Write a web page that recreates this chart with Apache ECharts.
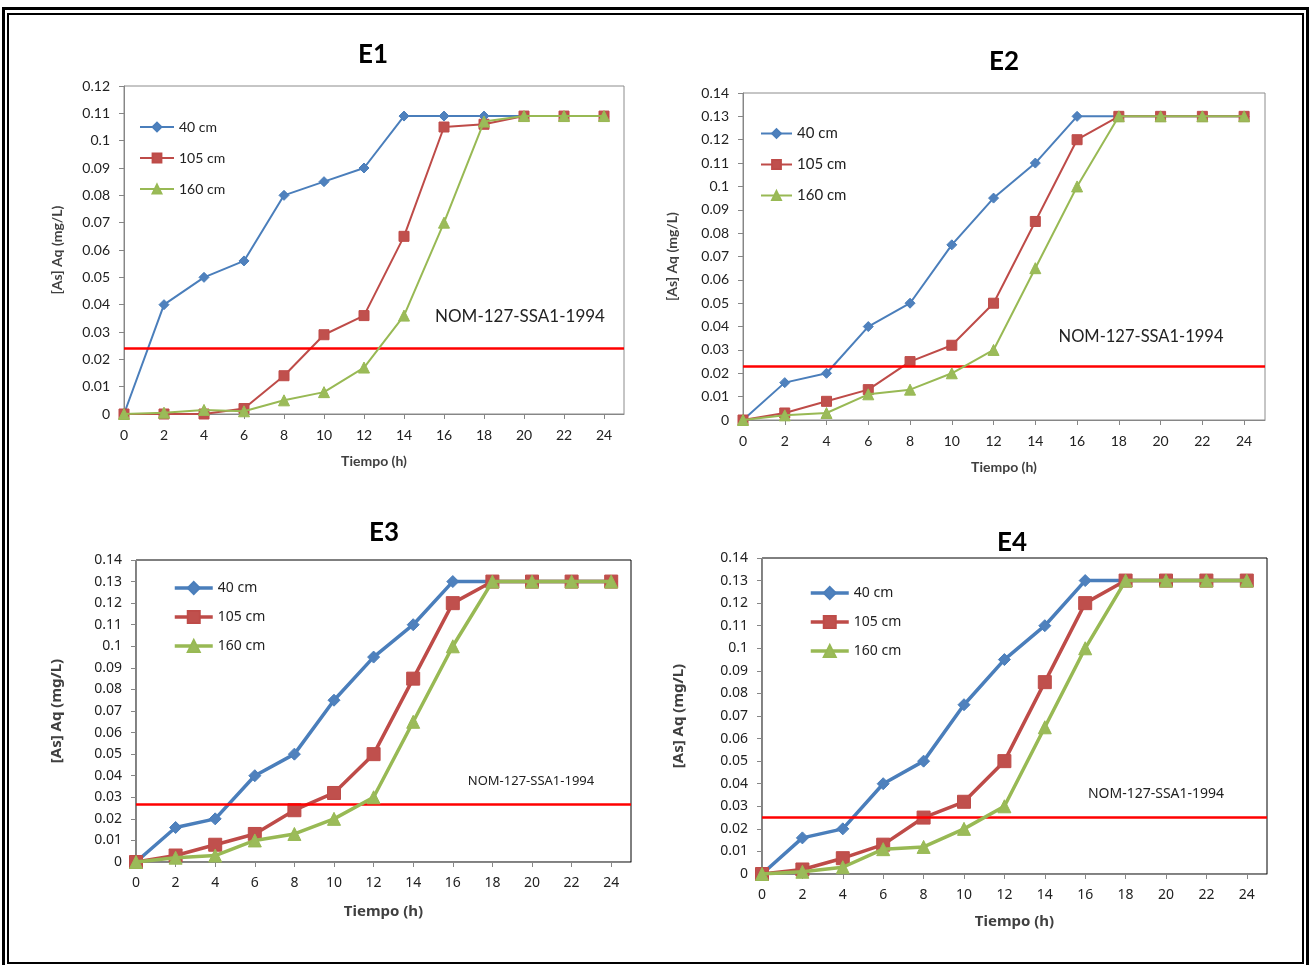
<!DOCTYPE html>
<html lang="es">
<head>
  <meta charset="UTF-8">
  <title>[As] Aq vs Tiempo - ensayos E1 a E4</title>
  <script src="https://cdn.jsdelivr.net/npm/echarts@6/dist/echarts.min.js"></script>
  <style>
    body { margin: 0; padding: 0; background: #fff; overflow: hidden; }
    #chart { position: absolute; left: 0; top: 0; width: 1309px; height: 965px; }
    /* doble marco exterior */
    .marco-ext { position: absolute; left: 2px; top: 7px; width: 1301px; height: 955px; border: 3px solid #000; pointer-events: none; }
    .marco-int { position: absolute; left: 7px; top: 13px; width: 1293px; height: 947px; border: 2px solid #000; pointer-events: none; }
  </style>
</head>
<body>
  <div id="chart"></div>
  <div class="marco-ext"></div>
  <div class="marco-int"></div>

  <script>
    // Tiempo de muestreo (h) y etiquetas del eje X
    const horas = [0, 2, 4, 6, 8, 10, 12, 14, 16, 18, 20, 22, 24];
    const horasEje = [0, 2, 4, 6, 8, 10, 12, 14, 16, 18, 20, 22, 24];
    const profundidades = ['40 cm', '105 cm', '160 cm'];
    const titulos = ['E1', 'E2', 'E3', 'E4'];
    const textoNom = 'NOM-127-SSA1-1994';

    // [As] Aq (mg/L) por ensayo y profundidad
    const e1_40  = [0, 0.040, 0.050, 0.056, 0.080, 0.085, 0.090, 0.109, 0.109, 0.109, 0.109, 0.109, 0.109];
    const e1_105 = [0, 0, 0, 0.002, 0.014, 0.029, 0.036, 0.065, 0.105, 0.106, 0.109, 0.109, 0.109];
    const e1_160 = [0, 0.0005, 0.0015, 0.001, 0.005, 0.008, 0.017, 0.036, 0.070, 0.107, 0.109, 0.109, 0.109];

    const e2_40  = [0, 0.016, 0.020, 0.040, 0.050, 0.075, 0.095, 0.110, 0.130, 0.130, 0.130, 0.130, 0.130];
    const e2_105 = [0, 0.003, 0.008, 0.013, 0.025, 0.032, 0.050, 0.085, 0.120, 0.130, 0.130, 0.130, 0.130];
    const e2_160 = [0, 0.002, 0.003, 0.011, 0.013, 0.020, 0.030, 0.065, 0.100, 0.130, 0.130, 0.130, 0.130];

    const e3_40  = [0, 0.016, 0.020, 0.040, 0.050, 0.075, 0.095, 0.110, 0.130, 0.130, 0.130, 0.130, 0.130];
    const e3_105 = [0, 0.003, 0.008, 0.013, 0.024, 0.032, 0.050, 0.085, 0.120, 0.130, 0.130, 0.130, 0.130];
    const e3_160 = [0, 0.002, 0.003, 0.010, 0.013, 0.020, 0.030, 0.065, 0.100, 0.130, 0.130, 0.130, 0.130];

    const e4_40  = [0, 0.016, 0.020, 0.040, 0.050, 0.075, 0.095, 0.110, 0.130, 0.130, 0.130, 0.130, 0.130];
    const e4_105 = [0, 0.002, 0.007, 0.013, 0.025, 0.032, 0.050, 0.085, 0.120, 0.130, 0.130, 0.130, 0.130];
    const e4_160 = [0, 0.001, 0.003, 0.011, 0.012, 0.020, 0.030, 0.065, 0.100, 0.130, 0.130, 0.130, 0.130];

    // Límite de la norma (línea roja) y máximo del eje Y
    const limiteNom = [0.024, 0.023, 0.027, 0.025];
    const yMaximo = [0.12, 0.14, 0.14, 0.14];

    const datosEnsayos = [
      [e1_40, e1_105, e1_160],
      [e2_40, e2_105, e2_160],
      [e3_40, e3_105, e3_160],
      [e4_40, e4_105, e4_160]
    ];

    // Colores estilo Excel 2007
    const colorLinea = ['#4A7EBB', '#BE4B48', '#98B954'];
    const colorRelleno = ['#4F81BD', '#C0504D', '#9BBB59'];
    const simbolos = ['diamond', 'rect', 'triangle'];

    // Posición y estilo de cada panel
    const paneles = [
      { grid: { left: 124, top: 86, width: 500, height: 328 }, titulo: [373, 55], nom: [520, 317],
        legend: { left: 134, top: 115, itemWidth: 34, itemHeight: 11, itemGap: 17 },
        fuente: 'Lato', tick: 14, leyenda: 14, nomSize: 17, nombre: 14, grosor: 2, simb: [10, 10, 11],
        borde: '#8c8c8c', yGap: 60, xGap: 40 },
      { grid: { left: 743, top: 93, width: 522, height: 327 }, titulo: [1004, 62], nom: [1141, 337],
        legend: { left: 755, top: 121, itemWidth: 31, itemHeight: 11, itemGap: 16 },
        fuente: 'Lato', tick: 14, leyenda: 15, nomSize: 16.5, nombre: 14, grosor: 2, simb: [10, 10, 11],
        borde: '#8c8c8c', yGap: 64, xGap: 40 },
      { grid: { left: 136, top: 560, width: 495, height: 302 }, titulo: [384, 533], nom: [531, 781],
        legend: { left: 168, top: 576, itemWidth: 38, itemHeight: 15, itemGap: 15 },
        fuente: 'Noto Sans', tick: 14, leyenda: 14, nomSize: 13, nombre: 15, grosor: 3.5, simb: [12, 13, 13],
        borde: '#000', yGap: 72, xGap: 42 },
      { grid: { left: 762, top: 558, width: 505, height: 316 }, titulo: [1012, 543], nom: [1156, 794],
        legend: { left: 804, top: 581, itemWidth: 38, itemHeight: 15, itemGap: 15 },
        fuente: 'Noto Sans', tick: 14, leyenda: 14, nomSize: 14, nombre: 15, grosor: 3.5, simb: [12, 13, 13],
        borde: '#000', yGap: 76, xGap: 40 }
    ];

    const chart = echarts.init(document.getElementById('chart'));

    const grids = [], xAxes = [], yAxes = [], legends = [], series = [], graficos = [];

    paneles.forEach(function (p, i) {
      grids.push(Object.assign({ show: true, borderColor: p.borde, borderWidth: 1, backgroundColor: '#fff', z: 0 }, p.grid));

      xAxes.push({
        type: 'value', gridIndex: i, min: 0, max: 25, z: 3,
        name: 'Tiempo (h)', nameLocation: 'middle', nameGap: p.xGap,
        nameTextStyle: { fontFamily: p.fuente, fontWeight: 'bold', fontSize: p.nombre, color: '#404040' },
        axisLine: { onZero: false, lineStyle: { color: '#868686', width: 1 } },
        axisTick: { customValues: horasEje, length: 5, lineStyle: { color: '#868686' } },
        axisLabel: { customValues: horasEje, margin: 14, fontFamily: p.fuente, fontSize: p.tick, color: '#222' },
        splitLine: { show: false }
      });

      yAxes.push({
        type: 'value', gridIndex: i, min: 0, max: yMaximo[i], interval: 0.01, z: 3,
        name: '[As] Aq (mg/L)', nameLocation: 'middle', nameGap: p.yGap,
        nameTextStyle: { fontFamily: p.fuente, fontWeight: 'bold', fontSize: p.nombre, color: '#404040' },
        axisLine: { show: true, lineStyle: { color: '#868686', width: 1 } },
        axisTick: { show: true, length: 5, lineStyle: { color: '#868686' } },
        axisLabel: { margin: 14, fontFamily: p.fuente, fontSize: p.tick, color: '#222' },
        splitLine: { show: false }
      });

      legends.push(Object.assign({
        orient: 'vertical', selectedMode: false,
        data: profundidades.map(function (n) { return { name: n, lineStyle: { width: p.grosor } }; }),
        textStyle: { fontFamily: p.fuente, fontSize: p.leyenda, color: '#222' }
      }, p.legend));

      profundidades.forEach(function (nombre, k) {
        const valores = datosEnsayos[i][k];
        const s = {
          name: nombre, type: 'line', xAxisIndex: i, yAxisIndex: i,
          data: horas.map(function (h, j) { return [h, valores[j]]; }),
          symbol: simbolos[k], symbolSize: p.simb[k],
          lineStyle: { color: colorLinea[k], width: p.grosor },
          itemStyle: { color: colorRelleno[k], borderColor: colorLinea[k], borderWidth: 1 },
          z: 3 + k
        };
        if (k === 0) {
          // línea roja del límite NOM-127-SSA1-1994
          s.markLine = {
            silent: true, symbol: 'none', precision: 4, label: { show: false },
            lineStyle: { color: '#f00', width: 2.5, type: 'solid' },
            data: [{ yAxis: limiteNom[i] }]
          };
        }
        series.push(s);
      });

      graficos.push({
        type: 'text', x: p.titulo[0], y: p.titulo[1],
        style: { text: titulos[i], font: 'bold 26px Lato', fill: '#000', align: 'center', verticalAlign: 'middle' }
      });
      graficos.push({
        type: 'text', x: p.nom[0], y: p.nom[1],
        style: { text: textoNom, font: p.nomSize + 'px ' + p.fuente, fill: '#222', align: 'center', verticalAlign: 'middle' }
      });
    });

    const option = {
      animation: false,
      backgroundColor: '#fff',
      grid: grids,
      xAxis: xAxes,
      yAxis: yAxes,
      legend: legends,
      series: series,
      graphic: graficos
    };

    chart.setOption(option);

    window.addEventListener('resize', function () {
      chart.resize();
    });
  </script>
</body>
</html>
